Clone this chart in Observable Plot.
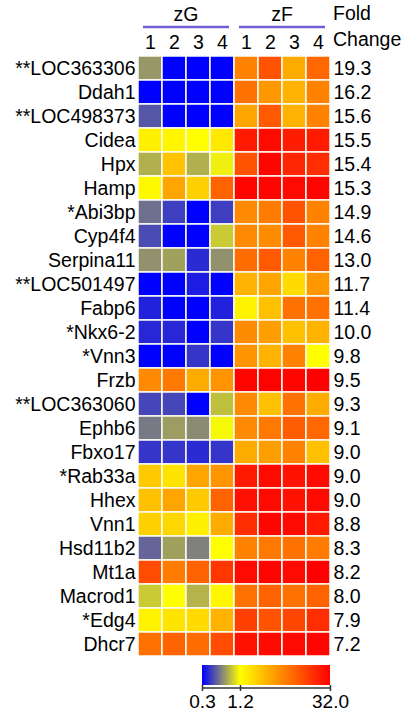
<!DOCTYPE html>
<html>
<head>
<meta charset="utf-8">
<script src="https://cdn.jsdelivr.net/npm/d3@7"></script>
<script src="https://cdn.jsdelivr.net/npm/@observablehq/plot@0.6"></script>
<style>
  html, body { margin: 0; padding: 0; background: #fff; }
  #chart { width: 406px; height: 712px; overflow: hidden; font-family: "Liberation Sans", Arial, sans-serif; }
  #chart svg { display: block; }
</style>
</head>
<body>
<div id="chart"></div>
<script>
// ---------------- data ----------------
const genes = ["**LOC363306","Ddah1","**LOC498373","Cidea","Hpx","Hamp","*Abi3bp","Cyp4f4","Serpina11",
  "**LOC501497","Fabp6","*Nkx6-2","*Vnn3","Frzb","**LOC363060","Ephb6","Fbxo17","*Rab33a","Hhex","Vnn1",
  "Hsd11b2","Mt1a","Macrod1","*Edg4","Dhcr7"];
const foldChange = [19.3,16.2,15.6,15.5,15.4,15.3,14.9,14.6,13.0,11.7,11.4,10.0,9.8,9.5,9.3,9.1,9.0,9.0,9.0,8.8,8.3,8.2,8.0,7.9,7.2];
const groups = ["zG", "zF"];
const sampleLabels = ["1", "2", "3", "4"];
const zG = [
  [0.68,0.3,0.3,0.3],[0.3,0.3,0.3,0.3],[0.48,0.3,0.3,0.3],[1.45,1.35,1.2,1.6],[0.78,2.6,0.78,1.1],
  [1.3,3.8,2.2,9],[0.55,0.42,0.3,0.42],[0.45,0.3,0.3,0.9],[0.66,0.72,0.38,0.66],[0.3,0.3,0.35,0.3],
  [0.36,0.3,0.3,0.36],[0.37,0.37,0.3,0.4],[0.3,0.3,0.4,0.3],[5.5,6.8,3.5,4.8],[0.44,0.44,0.3,0.85],
  [0.58,0.7,0.64,1.15],[0.4,0.4,0.38,0.4],[2.4,1.7,3.8,4.7],[2.7,3.8,2.4,9],[2.2,2.0,1.45,3.5],
  [0.52,0.72,0.6,1.2],[12,6.5,9,16],[0.9,1.2,0.8,1.35],[1.4,1.7,1.9,3.2],[7.5,9,8,12]
];
const zF = [
  [6,11,3.5,8.5],[7.5,4.5,3.2,6],[3.8,10,3.2,6],[23,28,22,23],[11,30,20,18],
  [30,30,28,30],[5.5,6.5,11,6],[5.5,5.3,10,6],[8,10,6,9],[3.2,3.8,1.9,4.5],
  [1.4,2.7,7.5,7.5],[5.3,4.2,2.7,3.2],[4.8,3.2,6,1.2],[30,31,30,32],[5.5,2.7,7.5,3.5],
  [5.5,6.8,9.5,8.5],[3.5,4.2,6,2.7],[23,28,25,28],[26,28,25,28],[18,30,28,23],
  [6,6.8,7.5,6.5],[28,30,28,32],[7.5,9,7.5,9],[14,11,13,18],[25,28,28,30]
];
const legendTicks = [0.3, 1.2, 32];
const colorStops = ["#0000ff", "#ffff00", "#ff0000"];

// ---------------- build ----------------
const columns = groups.flatMap(g => sampleLabels.map(s => g + s));
const cells = [];
genes.forEach((gene, i) => {
  [zG[i], zF[i]].forEach((vals, gi) => {
    vals.forEach((v, j) => cells.push({gene, col: groups[gi] + sampleLabels[j], value: v}));
  });
});
const foldOf = new Map(genes.map((g, i) => [g, foldChange[i]]));

const lo = legendTicks[0], mid = legendTicks[1], hi = legendTicks[legendTicks.length - 1];
const p = Math.log(mid / lo) / Math.log(hi / lo);
const iBY = d3.interpolateRgb(colorStops[0], colorStops[1]);
const iYR = d3.interpolateRgb(colorStops[1], colorStops[2]);
const interp = t => t <= p ? iBY(t / p) : iYR((t - p) / (1 - p));
const colorOpts = {type: "log", domain: [lo, hi], interpolate: interp, clamp: true};

const fontFamily = '"Liberation Sans", Arial, sans-serif';

const chart = Plot.plot({
  width: 406,
  height: 662,
  marginTop: 51,
  marginBottom: 2,
  marginLeft: 138,
  marginRight: 76,
  style: {fontFamily, fontSize: "19.5px", color: "#000", background: "#fff"},
  x: {domain: columns, padding: 0},
  y: {domain: genes, padding: 0},
  color: colorOpts,
  marks: [
    Plot.cell(cells, {x: "col", y: "gene", fill: "value", stroke: "#fbfbf4", strokeWidth: 1.5}),
    Plot.axisY({anchor: "left", tickSize: 0, tickPadding: 3, label: null}),
    Plot.axisY({anchor: "right", tickSize: 0, tickPadding: 3, label: null,
      tickFormat: g => foldOf.get(g).toFixed(1)}),
    Plot.axisX({anchor: "top", tickSize: 0, tickPadding: 3, label: null,
      tickFormat: c => c.slice(2)})
  ]
});

// group headers and "Fold Change" header, placed with the plot's own x scale
const svg = d3.select(chart);
const xs = chart.scale("x");
groups.forEach(g => {
  const x0 = xs.apply(g + sampleLabels[0]);
  const x1 = xs.apply(g + sampleLabels[sampleLabels.length - 1]) + xs.bandwidth;
  svg.append("line")
    .attr("x1", x0 + 5).attr("x2", x1 - 5).attr("y1", 27).attr("y2", 27)
    .attr("stroke", "#6f5fd6").attr("stroke-width", 2.5);
  svg.append("text")
    .attr("x", (x0 + x1) / 2).attr("y", 21).attr("text-anchor", "middle")
    .attr("fill", "#000").text(g);
});
const xRight = xs.apply(columns[columns.length - 1]) + xs.bandwidth + 3;
svg.append("text").attr("x", xRight).attr("y", 20).attr("text-anchor", "start").attr("fill", "#000").text("Fold");
svg.append("text").attr("x", xRight).attr("y", 46).attr("text-anchor", "start").attr("fill", "#000").text("Change");

// colour legend
const legend = Plot.legend({
  color: colorOpts,
  width: 406,
  height: 50,
  marginTop: 3,
  marginBottom: 27,
  marginLeft: 202,
  marginRight: 76,
  ticks: legendTicks,
  tickFormat: d3.format(".1f"),
  tickSize: 6,
  label: null,
  style: {fontFamily, fontSize: "19px", color: "#000", background: "#fff"}
});
const lsvg = d3.select(legend);
lsvg.selectAll(".tick line").attr("y1", 0).attr("y2", 6).attr("stroke", "#333").attr("stroke-width", 1.5);
lsvg.selectAll(".tick text").attr("y", 10).attr("fill", "#000");

const div = document.getElementById("chart");
div.appendChild(chart);
div.appendChild(legend);

// horizontal bracket line under the ramp, spanning the ramp's image
const tickNode = lsvg.select(".tick").node();
const img = lsvg.select("image");
if (tickNode && !img.empty()) {
  const ix = +img.attr("x"), iw = +img.attr("width");
  d3.select(tickNode.parentNode).append("line")
    .attr("x1", ix).attr("x2", ix + iw).attr("y1", 3).attr("y2", 3)
    .attr("stroke", "#333").attr("stroke-width", 1.5);
}
</script>
</body>
</html>
